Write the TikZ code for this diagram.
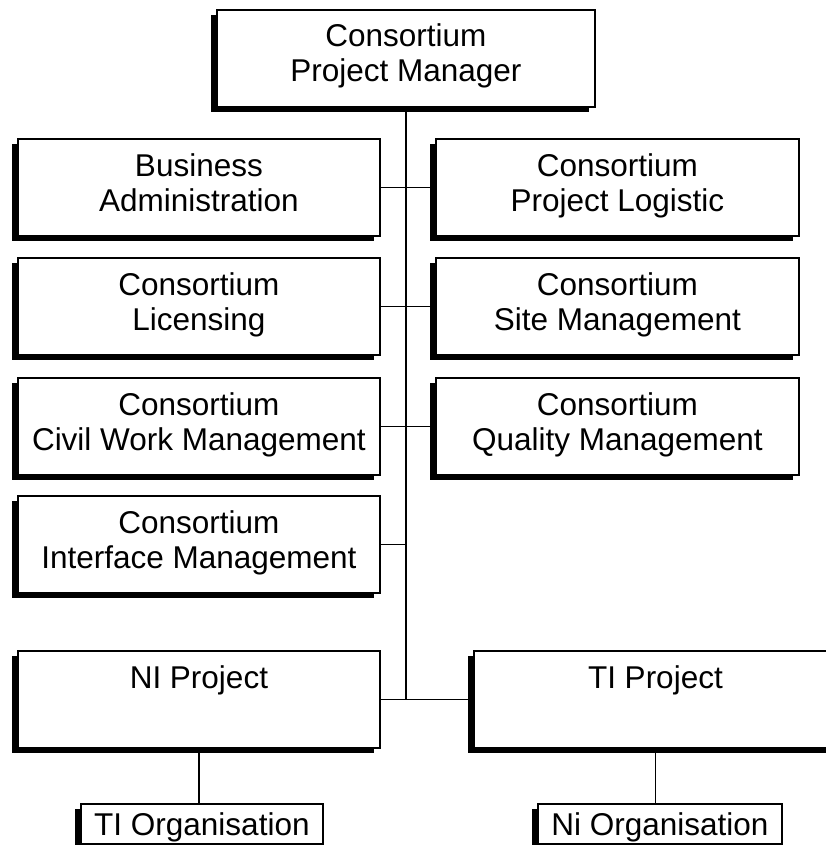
\documentclass[tikz,border=0pt]{standalone}
\usepackage{fontspec}
\setmainfont{Liberation Sans}
\usetikzlibrary{shadows}
\tikzset{
  orgbox/.style={draw=black, line width=1.8pt, fill=white, inner sep=0pt, anchor=north west,
    minimum height=97pt,
    general shadow={shadow xshift=-6pt, shadow yshift=-5pt, fill=black}},
  smallbox/.style={orgbox, minimum height=40pt,
    general shadow={shadow xshift=-5pt, shadow yshift=-5pt, fill=black}},
  boxtext/.style={font=\fontsize{31.5}{35}\selectfont, anchor=base, inner sep=0pt},
  link/.style={line width=1.8pt}
}
\begin{document}
\begin{tikzpicture}[x=1pt,y=-1pt]
\useasboundingbox (0,0) rectangle (826,845);
\clip (0,0) rectangle (826,845);

% boxes
\node[orgbox, minimum width=378pt] (pm)  at (216,9)   {};
\node[orgbox, minimum width=362pt] (ba)  at (17,138)  {};
\node[orgbox, minimum width=363pt] (pl)  at (435,138) {};
\node[orgbox, minimum width=362pt] (lic) at (17,257)  {};
\node[orgbox, minimum width=363pt] (sm)  at (435,257) {};
\node[orgbox, minimum width=362pt] (cw)  at (17,377)  {};
\node[orgbox, minimum width=363pt] (qm)  at (435,377) {};
\node[orgbox, minimum width=362pt] (im)  at (17,495)  {};
\node[orgbox, minimum width=362pt] (ni)  at (17,650)  {};
\node[orgbox, minimum width=363pt] (tip) at (473,650) {};
\node[smallbox, minimum width=242pt] (tio) at (80,803)  {};
\node[smallbox, minimum width=244pt] (nio) at (537,803) {};

% texts
\node[boxtext] (pm-a)  at ([yshift=-38pt]pm.north)  {Consortium};
\node[boxtext] (pm-b)  at ([yshift=-73pt]pm.north)  {Project Manager};
\node[boxtext] (ba-a)  at ([yshift=-38.5pt]ba.north)  {Business};
\node[boxtext] (ba-b)  at ([yshift=-73.5pt]ba.north)  {Administration};
\node[boxtext] (pl-a)  at ([yshift=-38.5pt]pl.north)  {Consortium};
\node[boxtext] (pl-b)  at ([yshift=-73.5pt]pl.north)  {Project Logistic};
\node[boxtext] (lic-a) at ([yshift=-38.5pt]lic.north) {Consortium};
\node[boxtext] (lic-b) at ([yshift=-73.5pt]lic.north) {Licensing};
\node[boxtext] (sm-a)  at ([yshift=-38.5pt]sm.north)  {Consortium};
\node[boxtext] (sm-b)  at ([yshift=-73.5pt]sm.north)  {Site Management};
\node[boxtext] (cw-a)  at ([yshift=-38.5pt]cw.north)  {Consortium};
\node[boxtext] (cw-b)  at ([yshift=-73.5pt]cw.north)  {Civil Work Management};
\node[boxtext] (qm-a)  at ([yshift=-38.5pt]qm.north)  {Consortium};
\node[boxtext] (qm-b)  at ([yshift=-73.5pt]qm.north)  {Quality Management};
\node[boxtext] (im-a)  at ([yshift=-38.5pt]im.north)  {Consortium};
\node[boxtext] (im-b)  at ([yshift=-73.5pt]im.north)  {Interface Management};
\node[boxtext] (ni-a)  at ([yshift=-38.5pt]ni.north)  {NI Project};
\node[boxtext] (tip-a) at ([yshift=-38.5pt]tip.north) {TI Project};
\node[boxtext] (tio-a) at ([yshift=-32pt]tio.north) {TI Organisation};
\node[boxtext] (nio-a) at ([yshift=-32pt]nio.north) {Ni Organisation};

% connectors
\coordinate (trunk) at (pm.south |- ni.east);
\draw[link] (pm.south) -- (trunk);
\draw[link] (ba.east) -- (pl.west);
\draw[link] (lic.east) -- (sm.west);
\draw[link] (cw.east) -- (qm.west);
\draw[link] (im.east) -- (im.east -| pm.south);
\draw[link] (ni.east) -- (tip.west);
\draw[link] (ni.south) -- (ni.south |- tio.north);
\draw[link] (tip.south) -- (tip.south |- nio.north);
\end{tikzpicture}
\end{document}
